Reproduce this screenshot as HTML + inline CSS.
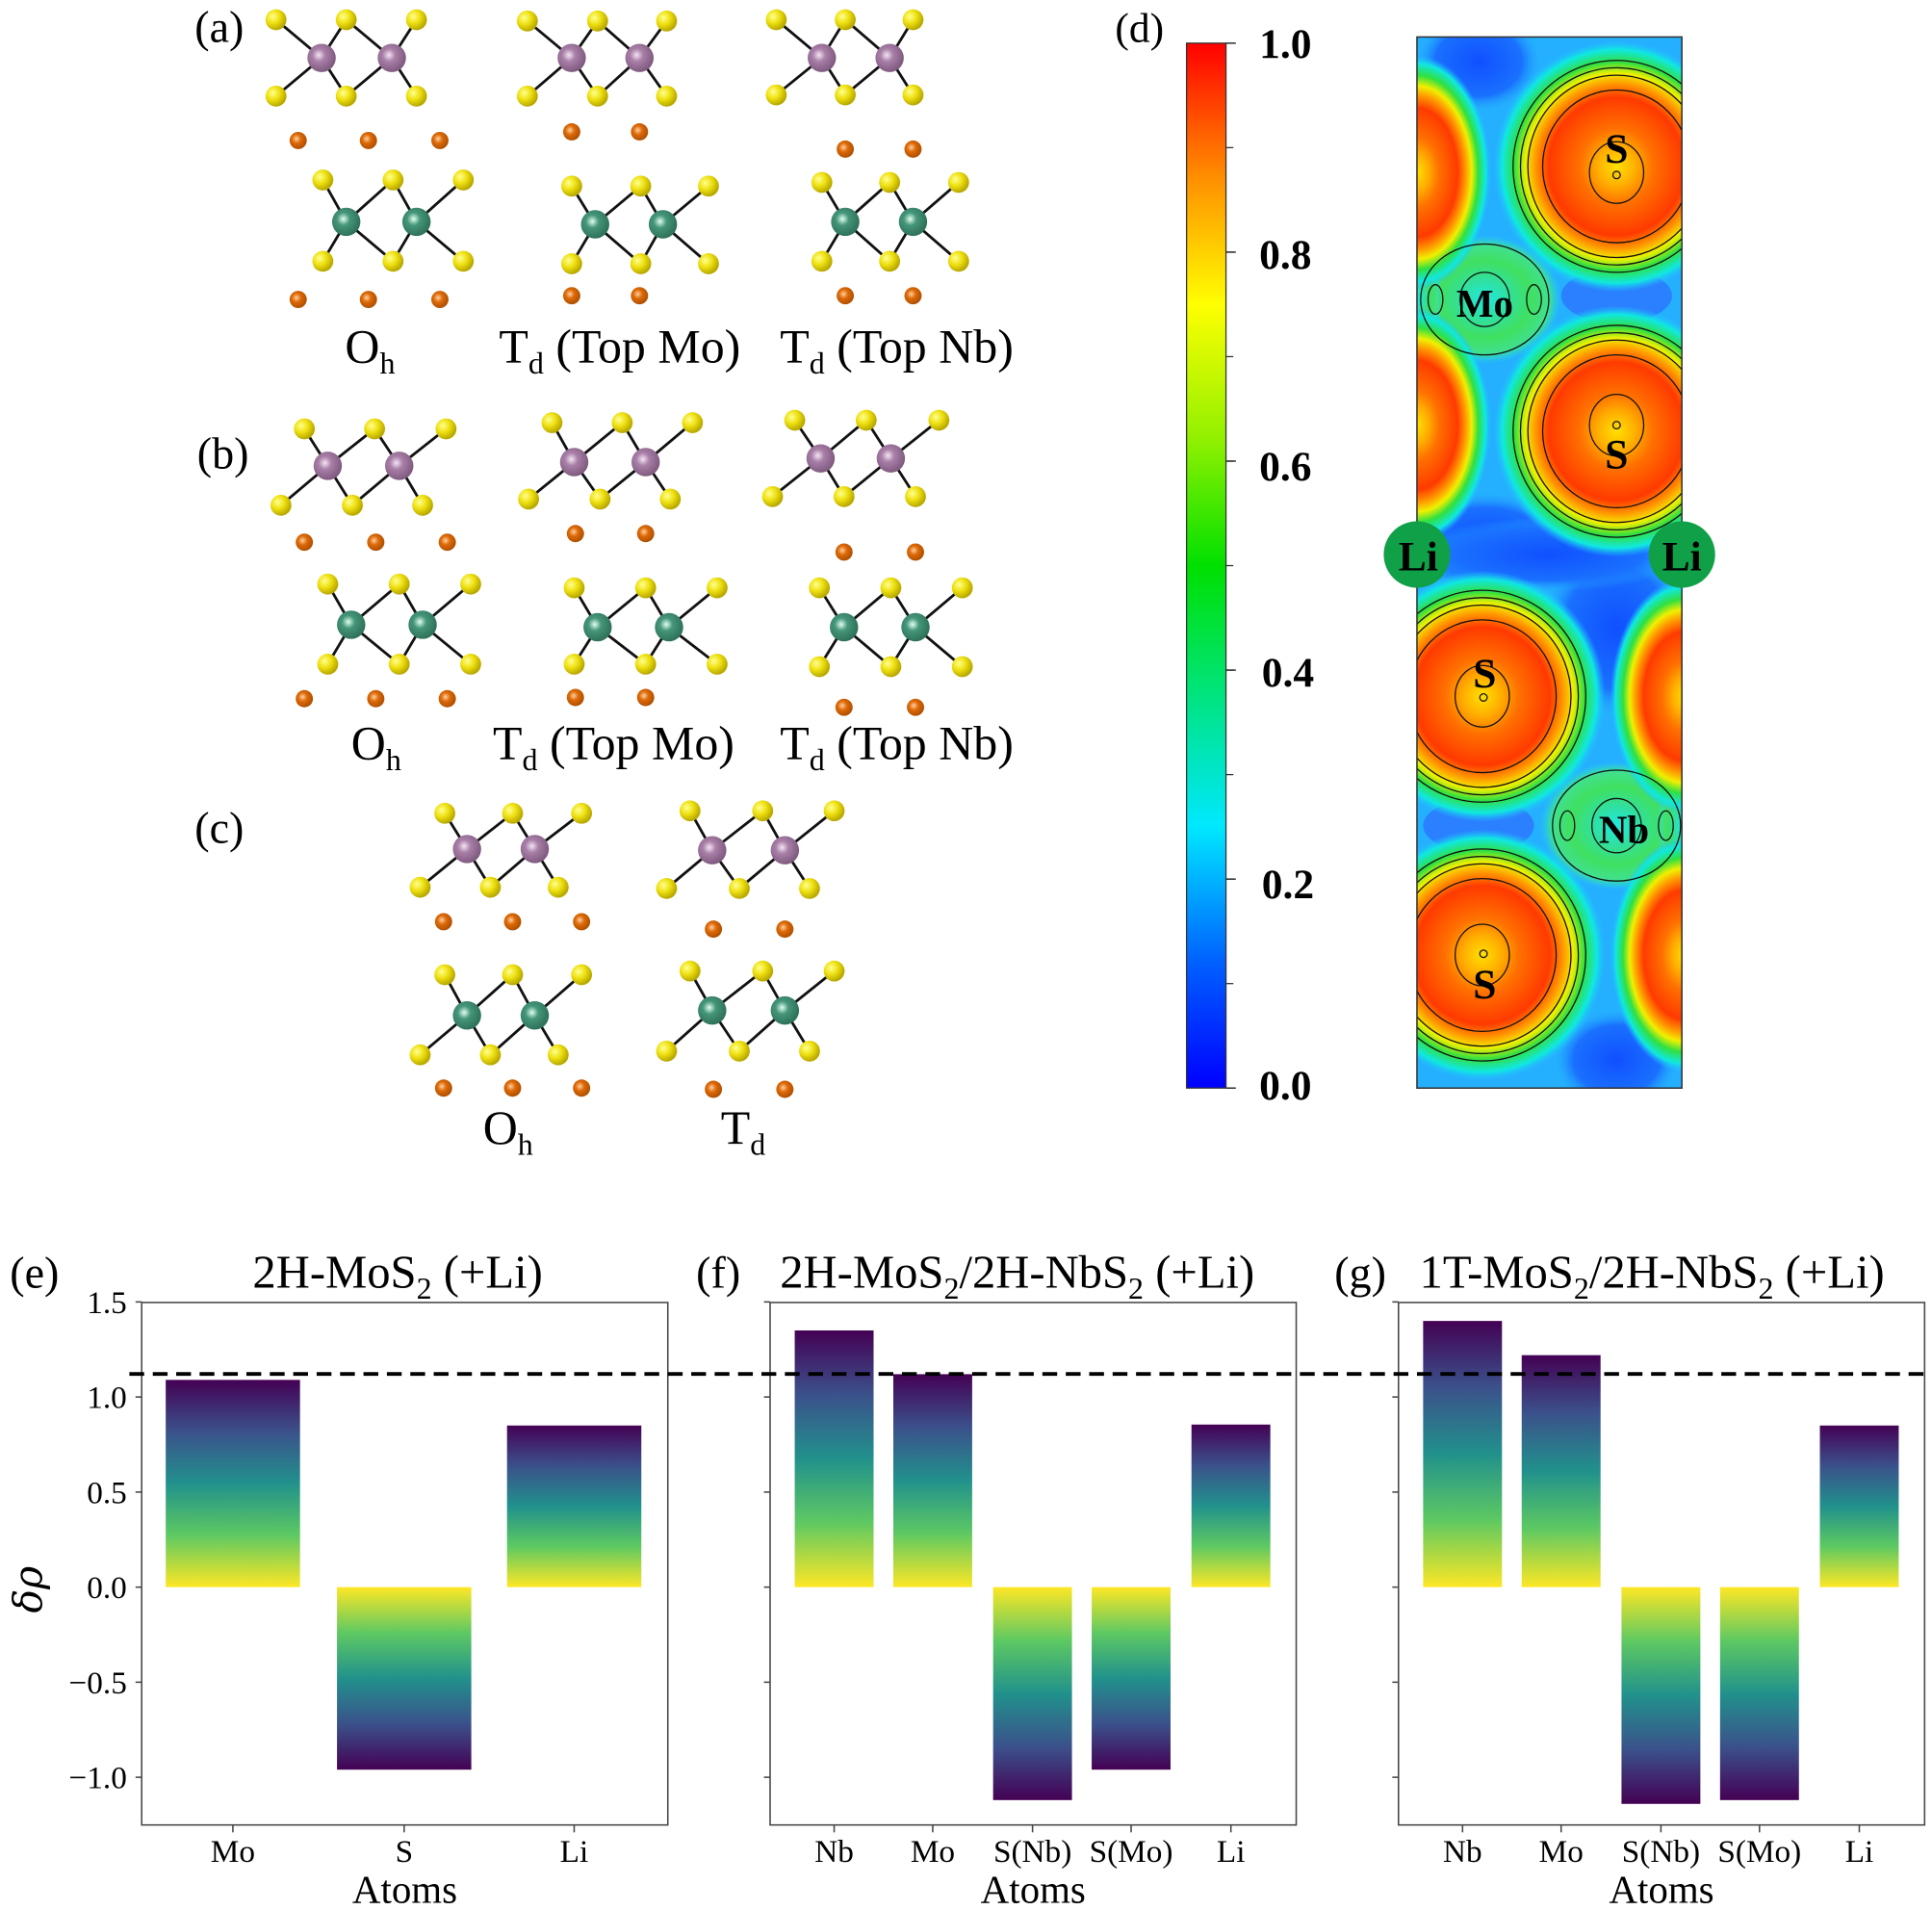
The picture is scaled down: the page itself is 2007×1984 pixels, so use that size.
<!DOCTYPE html>
<html><head><meta charset="utf-8"><style>html,body{margin:0;padding:0;background:#fff}svg{display:block}</style></head>
<body>
<svg id="s" xmlns="http://www.w3.org/2000/svg" width="2007" height="1984" viewBox="0 0 1568 1550" font-family="Liberation Serif, serif">
<defs>
<radialGradient id="gS" cx="35%" cy="35%" r="65%"><stop offset="0" stop-color="#ffff90"/><stop offset="0.5" stop-color="#eee010"/><stop offset="1" stop-color="#b8a800"/></radialGradient>
<radialGradient id="gM" cx="40%" cy="40%" r="65%"><stop offset="0" stop-color="#f4e4f4"/><stop offset="0.35" stop-color="#a97fa8"/><stop offset="1" stop-color="#7a567a"/></radialGradient>
<radialGradient id="gN" cx="40%" cy="40%" r="65%"><stop offset="0" stop-color="#e0fff0"/><stop offset="0.35" stop-color="#45967a"/><stop offset="1" stop-color="#2b6d55"/></radialGradient>
<radialGradient id="gL" cx="40%" cy="40%" r="65%"><stop offset="0" stop-color="#ffd0a0"/><stop offset="0.4" stop-color="#de6a08"/><stop offset="1" stop-color="#a84c00"/></radialGradient>
<linearGradient id="vp" x1="0" y1="0" x2="0" y2="1"><stop offset="0" stop-color="#440154"/><stop offset="0.25" stop-color="#3b518b"/><stop offset="0.5" stop-color="#21918c"/><stop offset="0.75" stop-color="#5ec962"/><stop offset="1" stop-color="#fde725"/></linearGradient>
<linearGradient id="vn" x1="0" y1="1" x2="0" y2="0"><stop offset="0" stop-color="#440154"/><stop offset="0.25" stop-color="#3b518b"/><stop offset="0.5" stop-color="#21918c"/><stop offset="0.75" stop-color="#5ec962"/><stop offset="1" stop-color="#fde725"/></linearGradient>
<linearGradient id="jet" x1="0" y1="1" x2="0" y2="0"><stop offset="0" stop-color="#0000ff"/><stop offset="0.12" stop-color="#0060ff"/><stop offset="0.25" stop-color="#00e8ff"/><stop offset="0.5" stop-color="#00e000"/><stop offset="0.62" stop-color="#90f000"/><stop offset="0.75" stop-color="#ffff00"/><stop offset="0.87" stop-color="#ff9000"/><stop offset="1" stop-color="#ff0000"/></linearGradient>
<radialGradient id="blob"><stop offset="0" stop-color="#ffe000"/><stop offset="0.15" stop-color="#ffb000"/><stop offset="0.3" stop-color="#ff7000"/><stop offset="0.55" stop-color="#ff3a00"/><stop offset="0.66" stop-color="#ff9a00"/><stop offset="0.74" stop-color="#f0f000"/><stop offset="0.83" stop-color="#30e040"/><stop offset="0.93" stop-color="#10e8e0"/><stop offset="1" stop-color="#20c0ff" stop-opacity="0"/></radialGradient>
<radialGradient id="mblob"><stop offset="0" stop-color="#20e8e0"/><stop offset="0.3" stop-color="#30e0a0"/><stop offset="0.6" stop-color="#40e060"/><stop offset="0.85" stop-color="#40e090"/><stop offset="1" stop-color="#20d8e8" stop-opacity="0"/></radialGradient>
<radialGradient id="dblue"><stop offset="0" stop-color="#1050ff"/><stop offset="0.7" stop-color="#1a70ff"/><stop offset="1" stop-color="#20a0ff" stop-opacity="0"/></radialGradient>
<clipPath id="cp"><rect x="1150" y="30" width="215" height="853"/></clipPath>
</defs>
<g id="mol"></g>
<g font-size="39">
<text x="158" y="34" font-size="36">(a)</text><text x="160" y="380" font-size="36">(b)</text><text x="158" y="684" font-size="36">(c)</text><text x="905" y="34" font-size="34">(d)</text>
<text x="280" y="294">O<tspan font-size="25" dy="9">h</tspan></text>
<text x="405" y="294">T<tspan font-size="25" dy="9">d</tspan><tspan dy="-9"> (Top Mo)</tspan></text>
<text x="633" y="294">T<tspan font-size="25" dy="9">d</tspan><tspan dy="-9"> (Top Nb)</tspan></text>
<text x="285" y="616">O<tspan font-size="25" dy="9">h</tspan></text>
<text x="400" y="616">T<tspan font-size="25" dy="9">d</tspan><tspan dy="-9"> (Top Mo)</tspan></text>
<text x="633" y="616">T<tspan font-size="25" dy="9">d</tspan><tspan dy="-9"> (Top Nb)</tspan></text>
<text x="392" y="928">O<tspan font-size="25" dy="9">h</tspan></text>
<text x="585" y="928">T<tspan font-size="25" dy="9">d</tspan></text>
</g>
<rect x="963" y="35" width="32" height="848" fill="url(#jet)" stroke="#333" stroke-width="1"/>
<g id="cbt"></g>
<g font-weight="bold" font-size="34">
<text x="1022" y="47">1.0</text><text x="1022" y="218">0.8</text><text x="1022" y="390">0.6</text><text x="1024" y="557">0.4</text><text x="1024" y="729">0.2</text><text x="1022" y="892">0.0</text>
</g>
<g clip-path="url(#cp)">
<rect x="1150" y="30" width="215" height="853" fill="#25b0ff"/>
<ellipse cx="1205" cy="440" rx="70" ry="40" fill="url(#dblue)"/>
<ellipse cx="1312" cy="510" rx="60" ry="70" fill="url(#dblue)"/>
<ellipse cx="1257" cy="450" rx="110" ry="30" fill="url(#dblue)"/>
<ellipse cx="1200" cy="50" rx="50" ry="40" fill="url(#dblue)"/>
<ellipse cx="1312" cy="240" rx="45" ry="22" fill="#2a80ff"/>
<ellipse cx="1200" cy="670" rx="45" ry="22" fill="#2a80ff"/>
<ellipse cx="1312" cy="860" rx="50" ry="40" fill="url(#dblue)"/>
<ellipse cx="1205" cy="243" rx="62" ry="52" fill="url(#mblob)"/>
<ellipse cx="1312" cy="670" rx="62" ry="52" fill="url(#mblob)"/>
<ellipse cx="1150" cy="243" rx="20" ry="45" fill="url(#mblob)"/>
<ellipse cx="1365" cy="670" rx="20" ry="45" fill="url(#mblob)"/>
<g fill="url(#blob)">
<ellipse cx="1312" cy="135" rx="100" ry="102"/>
<ellipse cx="1312" cy="350" rx="100" ry="102"/>
<ellipse cx="1203" cy="565" rx="100" ry="102"/>
<ellipse cx="1203" cy="775" rx="100" ry="102"/>
<ellipse cx="1150" cy="140" rx="60" ry="95"/>
<ellipse cx="1150" cy="345" rx="60" ry="95"/>
<ellipse cx="1367" cy="565" rx="60" ry="95"/>
<ellipse cx="1367" cy="775" rx="60" ry="95"/>
</g>
<g fill="none" stroke="#111" stroke-width="1">
<ellipse cx="1312" cy="135" rx="60" ry="62"/><ellipse cx="1312" cy="135" rx="72" ry="74"/><ellipse cx="1312" cy="135" rx="78" ry="80"/><ellipse cx="1312" cy="135" rx="84" ry="86"/><ellipse cx="1312" cy="140" rx="22" ry="25"/>
<ellipse cx="1312" cy="350" rx="60" ry="62"/><ellipse cx="1312" cy="350" rx="72" ry="74"/><ellipse cx="1312" cy="350" rx="78" ry="80"/><ellipse cx="1312" cy="350" rx="84" ry="86"/><ellipse cx="1312" cy="345" rx="22" ry="25"/>
<ellipse cx="1203" cy="565" rx="60" ry="62"/><ellipse cx="1203" cy="565" rx="72" ry="74"/><ellipse cx="1203" cy="565" rx="78" ry="80"/><ellipse cx="1203" cy="565" rx="84" ry="86"/><ellipse cx="1203" cy="565" rx="22" ry="25"/>
<ellipse cx="1203" cy="775" rx="60" ry="62"/><ellipse cx="1203" cy="775" rx="72" ry="74"/><ellipse cx="1203" cy="775" rx="78" ry="80"/><ellipse cx="1203" cy="775" rx="84" ry="86"/><ellipse cx="1203" cy="775" rx="22" ry="25"/>
<ellipse cx="1205" cy="243" rx="52" ry="45"/><ellipse cx="1205" cy="243" rx="20" ry="22"/><ellipse cx="1165" cy="243" rx="6" ry="12"/><ellipse cx="1245" cy="243" rx="6" ry="12"/>
<ellipse cx="1312" cy="670" rx="52" ry="45"/><ellipse cx="1312" cy="670" rx="20" ry="22"/><ellipse cx="1272" cy="670" rx="6" ry="12"/><ellipse cx="1352" cy="670" rx="6" ry="12"/>
<circle cx="1312" cy="142" r="3"/><circle cx="1312" cy="345" r="3"/><circle cx="1204" cy="566" r="3"/><circle cx="1204" cy="774" r="3"/>
</g>
</g>
<rect x="1150" y="30" width="215" height="853" fill="none" stroke="#333" stroke-width="1.2"/>
<ellipse cx="1150" cy="450" rx="27" ry="27" fill="#10a048"/><ellipse cx="1365" cy="450" rx="27" ry="27" fill="#10a048"/>
<g font-weight="bold" font-size="34" text-anchor="middle">
<text x="1151" y="463">Li</text><text x="1365" y="463">Li</text>
<text x="1312" y="132">S</text><text x="1312" y="380">S</text><text x="1205" y="558">S</text><text x="1205" y="810">S</text>
<text x="1205" y="257" font-size="32">Mo</text><text x="1318" y="684" font-size="32">Nb</text>
</g>
<g id="bars"></g>
<line x1="105" y1="1115" x2="1568" y2="1115" stroke="#000" stroke-width="3" stroke-dasharray="12,7"/>
<g font-size="38">
<text x="8" y="1045" font-size="36">(e)</text><text x="565" y="1045" font-size="36">(f)</text><text x="1083" y="1045" font-size="36">(g)</text>
<text x="205" y="1045">2H-MoS<tspan font-size="25" dy="9">2</tspan><tspan dy="-9"> (+Li)</tspan></text>
<text x="633" y="1045">2H-MoS<tspan font-size="25" dy="9">2</tspan><tspan dy="-9">/2H-NbS</tspan><tspan font-size="25" dy="9">2</tspan><tspan dy="-9"> (+Li)</tspan></text>
<text x="1152" y="1045">1T-MoS<tspan font-size="25" dy="9">2</tspan><tspan dy="-9">/2H-NbS</tspan><tspan font-size="25" dy="9">2</tspan><tspan dy="-9"> (+Li)</tspan></text>
</g>
<text x="0" y="0" font-size="32" font-style="italic" font-family="DejaVu Serif, serif" transform="translate(34,1290) rotate(-90)" text-anchor="middle">δρ</text>
</svg>
<script>
const NS="http://www.w3.org/2000/svg";
function el(p,t,a,txt){const e=document.createElementNS(NS,t);for(const k in a)e.setAttribute(k,a[k]);if(txt!==undefined)e.textContent=txt;p.appendChild(e);return e;}
const mol=document.getElementById('mol');
function layer(top,ty,ms,my,bot,by,g){
  const gl=el(mol,'g',{stroke:'#111','stroke-width':2.2});
  ms.forEach(mx=>{
    const nt=top.slice().sort((a,b)=>Math.abs(a-mx)-Math.abs(b-mx)).slice(0,2);
    const nb=bot.slice().sort((a,b)=>Math.abs(a-mx)-Math.abs(b-mx)).slice(0,2);
    nt.forEach(x=>el(gl,'line',{x1:mx,y1:my,x2:x,y2:ty}));
    nb.forEach(x=>el(gl,'line',{x1:mx,y1:my,x2:x,y2:by}));
  });
  top.forEach(x=>el(mol,'circle',{cx:x,cy:ty,r:8.5,fill:'url(#gS)'}));
  bot.forEach(x=>el(mol,'circle',{cx:x,cy:by,r:8.5,fill:'url(#gS)'}));
  ms.forEach(x=>el(mol,'circle',{cx:x,cy:my,r:11.5,fill:g}));
}
function li(xs,y){xs.forEach(x=>el(mol,'circle',{cx:x,cy:y,r:7,fill:'url(#gL)'}));}
const P='url(#gM)',G='url(#gN)';
layer([224,281,338],16,[261,318],47,[224,281,338],78,P);li([242,299,357],114);
layer([262,319,376],146,[281,338],180,[262,319,376],212,G);li([242,299,357],243);
layer([428,485,541],17,[464,519],47,[428,485,541],78,P);li([464,519],107);
layer([464,520,575],151,[483,538],182,[464,520,575],214,G);li([464,519],240);
layer([630,686,741],16,[667,722],47,[630,686,741],77,P);li([686,741],121);
layer([667,722,778],148,[686,741],180,[667,722,778],212,G);li([686,741],240);
layer([247,304,362],348,[266,324],378,[228,286,343],410,P);li([247,305,363],440);
layer([266,324,382],474,[285,343],507,[266,324,382],539,G);li([247,305,363],567);
layer([448,505,562],343,[466,524],375,[429,487,544],405,P);li([467,524],433);
layer([466,524,582],477,[485,543],509,[466,524,582],539,G);li([467,524],566);
layer([645,703,762],341,[666,723],372,[627,685,743],403,P);li([685,743],448);
layer([665,723,781],477,[685,743],509,[665,723,781],541,G);li([685,743],574);
layer([361,416,472],660,[379,434],689,[341,398,453],720,P);li([360,416,472],748);
layer([361,416,472],791,[379,434],824,[341,398,453],856,G);li([360,416,472],883);
layer([560,619,677],658,[578,637],690,[541,600,657],721,P);li([579,637],754);
layer([560,619,677],788,[578,637],820,[541,600,657],853,G);li([579,637],884);
const cbt=document.getElementById('cbt');
for(let i=1;i<10;i++){const y=883-i*84.8;el(cbt,'line',{x1:995,y1:y,x2:1001,y2:y,stroke:'#333','stroke-width':1});}
for(let i=0;i<=10;i+=2){const y=883-i*84.8;el(cbt,'line',{x1:995,y1:y,x2:1003,y2:y,stroke:'#333','stroke-width':1.2});}
const B=document.getElementById('bars');
const Y=v=>1288-v*154.3;
function axes(x0,x1,cats,vals,w,labels){
  el(B,'rect',{x:x0,y:1057,width:x1-x0,height:424,fill:'none',stroke:'#444','stroke-width':1.2});
  cats.forEach((c,i)=>{
    const v=vals[i];const y=v>0?Y(v):Y(0);const h=Math.abs(Y(v)-Y(0));
    el(B,'rect',{x:c-w/2,y:y,width:w,height:h,fill:v>0?'url(#vp)':'url(#vn)'});
    el(B,'line',{x1:c,y1:1481,x2:c,y2:1487,stroke:'#444','stroke-width':1.2});
    el(B,'text',{x:c,y:1511,'font-size':26,'text-anchor':'middle'},labels[i]);
  });
  [1.5,1,0.5,0,-0.5,-1].forEach(v=>{el(B,'line',{x1:x0-5,y1:Y(v),x2:x0,y2:Y(v),stroke:'#444','stroke-width':1.2});});
  el(B,'text',{x:(x0+x1)/2,y:1544,'font-size':32,'text-anchor':'middle'},'Atoms');
}
axes(115,542,[189,328,466],[1.09,-0.96,0.85],109,['Mo','S','Li']);
axes(625,1052,[677,757,838,918,999],[1.35,1.12,-1.12,-0.96,0.855],64,['Nb','Mo','S(Nb)','S(Mo)','Li']);
axes(1135,1562,[1187,1267,1348,1428,1509],[1.40,1.22,-1.14,-1.12,0.85],64,['Nb','Mo','S(Nb)','S(Mo)','Li']);
[[1.5,'1.5'],[1,'1.0'],[0.5,'0.5'],[0,'0.0'],[-0.5,'\u22120.5'],[-1,'\u22121.0']].forEach(([v,t])=>el(B,'text',{x:103,y:Y(v)+9,'font-size':26,'text-anchor':'end'},t));
</script>
</body></html>
